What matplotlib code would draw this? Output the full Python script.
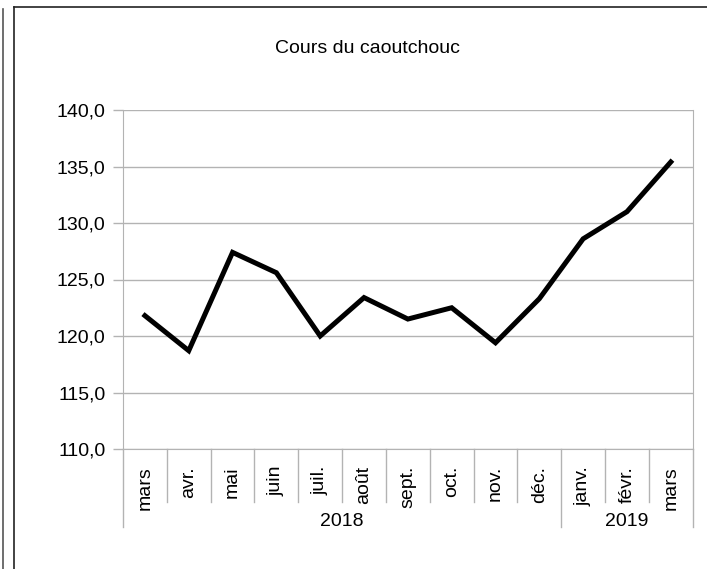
import matplotlib.pyplot as plt
import matplotlib.transforms as mtransforms
from matplotlib.lines import Line2D

plt.rcParams['font.family'] = ['Liberation Sans', 'DejaVu Sans']

months = ["mars", "avr.", "mai", "juin", "juil.", "août", "sept.", "oct.",
          "nov.", "déc.", "janv.", "févr.", "mars"]
years = ["2018", "2019"]
months_per_year = [10, 3]
prices = [121.8, 118.7, 127.4, 125.6, 120.0, 123.4, 121.5, 122.5,
          119.4, 123.3, 128.6, 131.0, 135.4]
yticks = [110, 115, 120, 125, 130, 135, 140]

W, H = 707, 569
fig = plt.figure(figsize=(W / 100, H / 100), dpi=100)

# spreadsheet frame around the chart
fig.add_artist(Line2D([2.5 / W, 2.5 / W], [0, 1 - 9 / H], color='#555555', lw=1.2))
fig.add_artist(Line2D([13.5 / W, 13.5 / W], [0, 1 - 7 / H], color='#222222', lw=1.2))
fig.add_artist(Line2D([13.5 / W, 1], [1 - 7 / H, 1 - 7 / H], color='#222222', lw=1.2))

left, right, top, bottom = 123, 692.7, 110, 449
ax = fig.add_axes([left / W, 1 - bottom / H, (right - left) / W, (bottom - top) / H])

grey = '#b3b3b3'
fs = 14

x = list(range(len(months)))
ax.plot(x, prices, color='black', lw=3.6, solid_joinstyle='miter', zorder=3)

ax.set_xlim(-0.5, len(months) - 0.5)
ax.set_ylim(110, 140)
ax.set_yticks(yticks)
ax.set_yticklabels([f"{v:.1f}".replace('.', ',') for v in yticks], fontsize=fs)
ax.tick_params(axis='y', length=7.2, width=1, color=grey, pad=5.5)
ax.set_xticks([])
ax.yaxis.grid(True, color=grey, lw=1)
ax.set_axisbelow(True)
for s in ['left', 'right', 'bottom']:
    ax.spines[s].set_color(grey)
ax.spines['top'].set_visible(False)

ph = bottom - top
trans = mtransforms.blended_transform_factory(ax.transData, ax.transAxes)

# category separators below the axis
bounds = [0]
for n in months_per_year:
    bounds.append(bounds[-1] + n)
for i in range(len(months) + 1):
    depth = 527 if i in bounds else 502
    ax.plot([i - 0.5, i - 0.5], [0, -(depth - bottom) / ph], color=grey, lw=1,
            transform=trans, clip_on=False)

for i, m in enumerate(months):
    ax.text(i, -(466 - bottom) / ph, m, rotation=90, ha='center', va='top',
            fontsize=fs, transform=trans)

for j, yr in enumerate(years):
    c = (bounds[j] + bounds[j + 1]) / 2 - 0.5
    ax.text(c, -(522 - bottom) / ph, yr, ha='center', va='center',
            fontsize=fs, transform=trans)

fig.text(367 / W, 1 - 53.3 / H, "Cours du caoutchouc", ha='center', va='baseline',
         fontsize=fs)

fig.savefig('out.png', dpi=100)
